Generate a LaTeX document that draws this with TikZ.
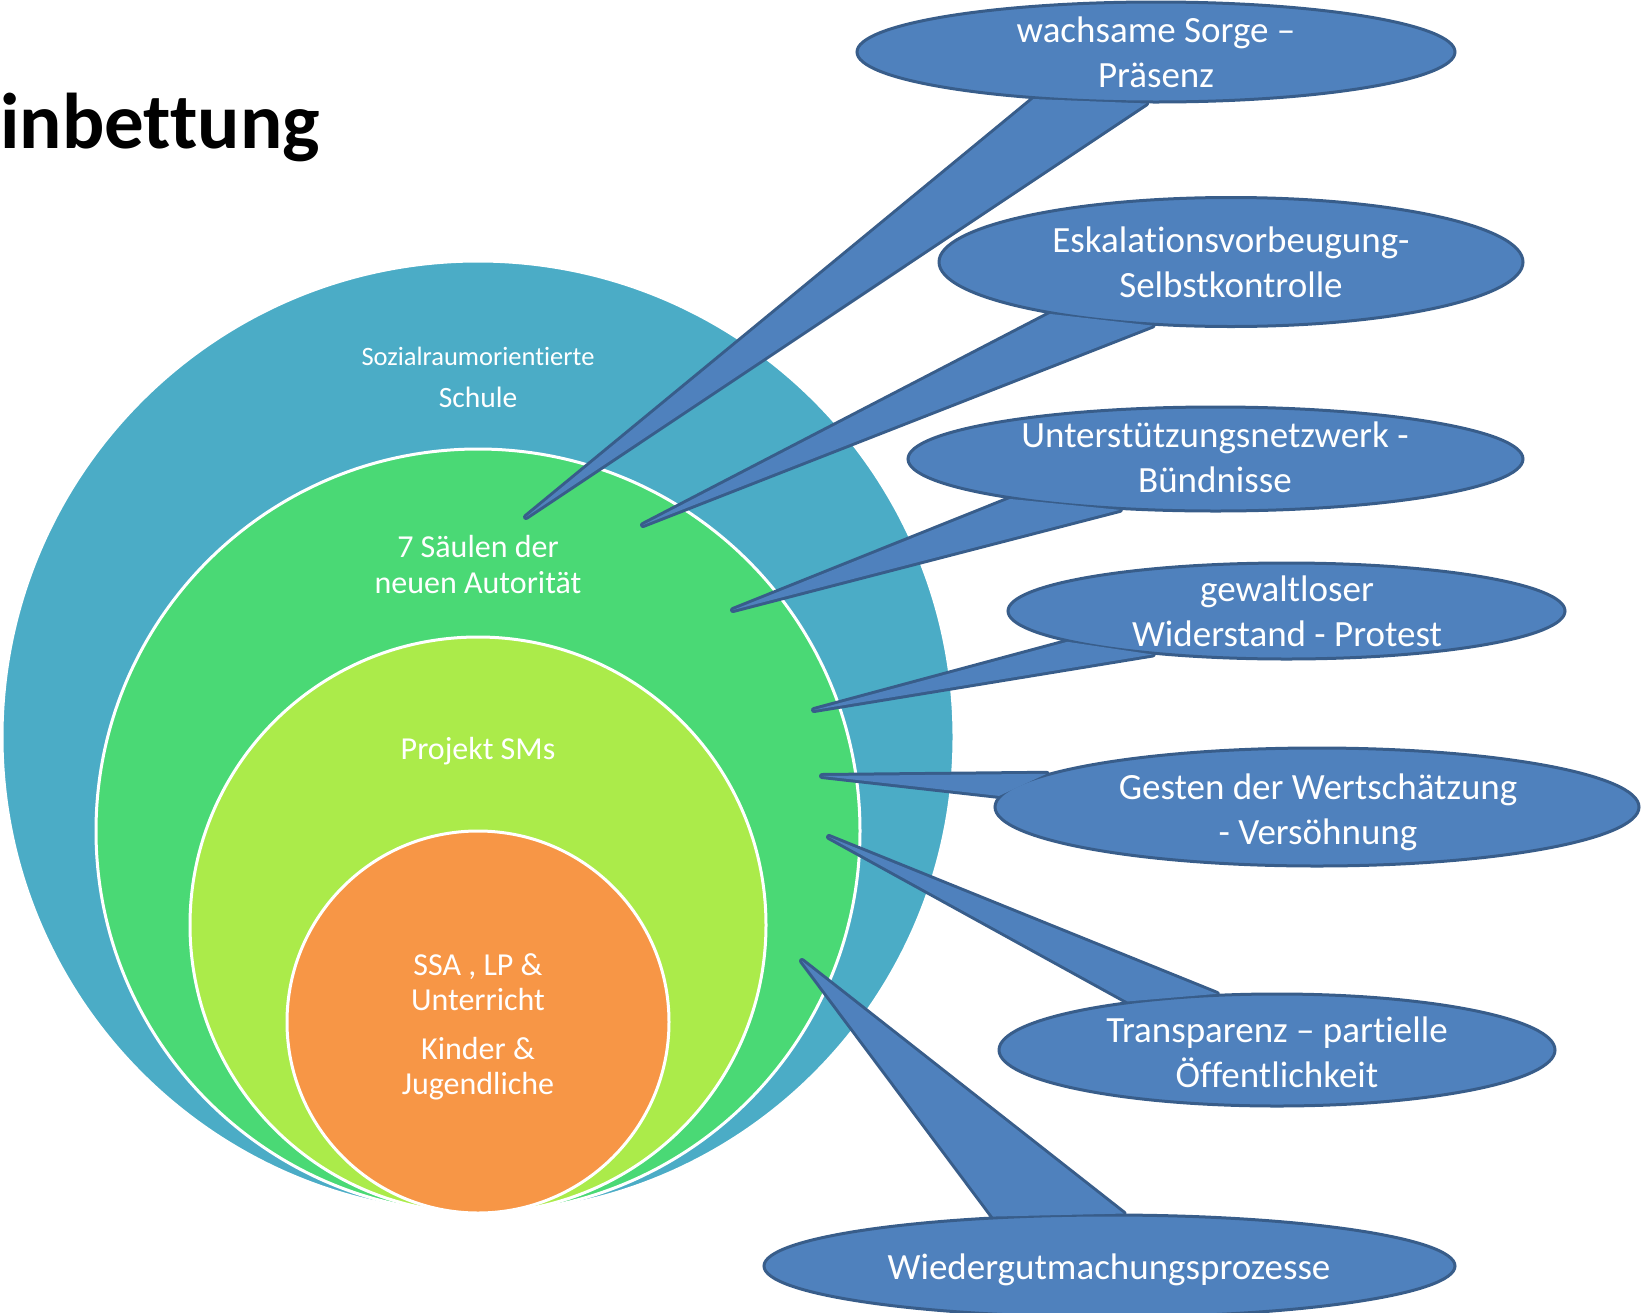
\documentclass[tikz,border=0pt]{standalone}
\usepackage{fontspec}
\setmainfont{Carlito}[Ligatures=NoCommon]
\usetikzlibrary{shapes.geometric}
\definecolor{cteal}{HTML}{4BACC6}
\definecolor{cgreen}{HTML}{4AD975}
\definecolor{clime}{HTML}{ABEB4A}
\definecolor{corange}{HTML}{F79646}
\definecolor{cfill}{HTML}{4F81BD}
\definecolor{cline}{HTML}{385D8A}
\pgfdeclarelayer{circ}
\pgfdeclarelayer{tails}
\pgfsetlayers{circ,tails,main}
\begin{document}
\begin{tikzpicture}[x=1pt,y=-1pt,
  ring/.style={circle, draw=white, line width=3pt, inner sep=0pt, fill=#1},
  bubble/.style={ellipse, fill=cfill, draw=cline, line width=3pt, inner sep=0pt},
  tailline/.style={fill=cfill, draw=cline, line width=6pt, line join=round},
  tailfill/.style={fill=cfill},
  btext/.style={text=white, align=center, inner sep=0pt, font=\fontsize{37}{45}\selectfont},
  ctext/.style={text=white, align=center, inner sep=0pt, font=\fontsize{32}{38}\selectfont, anchor=base},
  ttext/.style={text=black, inner sep=0pt, anchor=base west, font=\bfseries\fontsize{79}{88}\selectfont}]
\useasboundingbox (0,0) rectangle (1641,1312);

% title
\node[ttext] (title) at (0,148) {inbettung};

% stacked circles
\begin{pgfonlayer}{circ}
\node[ring=cteal, minimum size=952pt] (soz) at (478,737) {};
\node[ring=cgreen, minimum size=764pt] (saeulen) at (478,831) {};
\node[ring=clime, minimum size=576pt] (projekt) at (478,925) {};
\node[ring=corange, minimum size=382pt] (kern) at (478,1022) {};
\end{pgfonlayer}

% circle labels
\node[ctext, font=\fontsize{26.5}{30}\selectfont] (sozA) at (478,365) {Sozialraumorientierte};
\node[ctext, font=\fontsize{29.5}{34}\selectfont] (sozB) at (478,407) {Schule};
\node[ctext] (saeA) at (478,557) {7 Säulen der};
\node[ctext] (saeB) at (478,593) {neuen Autorität};
\node[ctext] (proA) at (478,759) {Projekt SMs};
\node[ctext] (kerA) at (478,975) {SSA , LP \&};
\node[ctext] (kerB) at (478,1010) {Unterricht};
\node[ctext] (kerC) at (478,1059) {Kinder \&};
\node[ctext] (kerD) at (478,1094) {Jugendliche};

% bubbles
\node[bubble, minimum width=598pt, minimum height=100pt] (c1) at (1156,52) {};
\node[bubble, minimum width=584pt, minimum height=129pt] (c2) at (1231,262) {};
\node[bubble, minimum width=615pt, minimum height=104pt] (c3) at (1215.5,459) {};
\node[bubble, minimum width=557pt, minimum height=96pt] (c4) at (1286.5,611) {};
\node[bubble, minimum width=644pt, minimum height=118pt] (c5) at (1317,807) {};
\node[bubble, minimum width=556pt, minimum height=112pt] (c6) at (1277,1050) {};
\node[bubble, minimum width=691pt, minimum height=102pt] (c7) at (1109.5,1266) {};

% tail tips
\coordinate (t1) at (526,517);
\coordinate (t2) at (643,525);
\coordinate (t3) at (733,610);
\coordinate (t4) at (814,710);
\coordinate (t5) at (822,776);
\coordinate (t6) at (829,837);
\coordinate (t7) at (802,961);

\begin{pgfonlayer}{tails}
\foreach \c/\a/\b/\t in {c1/201.1/259.6/t1, c2/196.4/219.2/t2, c3/191.5/208.7/t3,
  c4/188.3/198.7/t4, c5/173.7/178.4/t5, c6/137.1/162.8/t6, c7/157.5/75.7/t7}
  \path[tailline] (\c.\a) -- (\t) -- (\c.\b) -- cycle;
\end{pgfonlayer}
\foreach \c/\a/\b/\t in {c1/201.1/259.6/t1, c2/196.4/219.2/t2, c3/191.5/208.7/t3,
  c4/188.3/198.7/t4, c5/173.7/178.4/t5, c6/137.1/162.8/t6, c7/157.5/75.7/t7}
  \path[tailfill] (\c.\a) -- (\t) -- (\c.\b) -- cycle;

% bubble texts
\node[btext] (c1t) at (1156,52) {wachsame Sorge –\\Präsenz};
\node[btext] (c2t) at (1231,262) {Eskalationsvorbeugung-\\Selbstkontrolle};
\node[btext] (c3t) at (1215,457.5) {Unterstützungsnetzwerk -\\Bündnisse};
\node[btext] (c4t) at (1287,611.5) {gewaltloser\\Widerstand - Protest};
\node[btext] (c5t) at (1318,812) {Gesten der Wertschätzung\\- Versöhnung};
\node[btext] (c6t) at (1277,1052) {Transparenz – partielle\\Öffentlichkeit};
\node[btext] (c7t) at (1109,1270) {Wiedergutmachungsprozesse};
\end{tikzpicture}
\end{document}
